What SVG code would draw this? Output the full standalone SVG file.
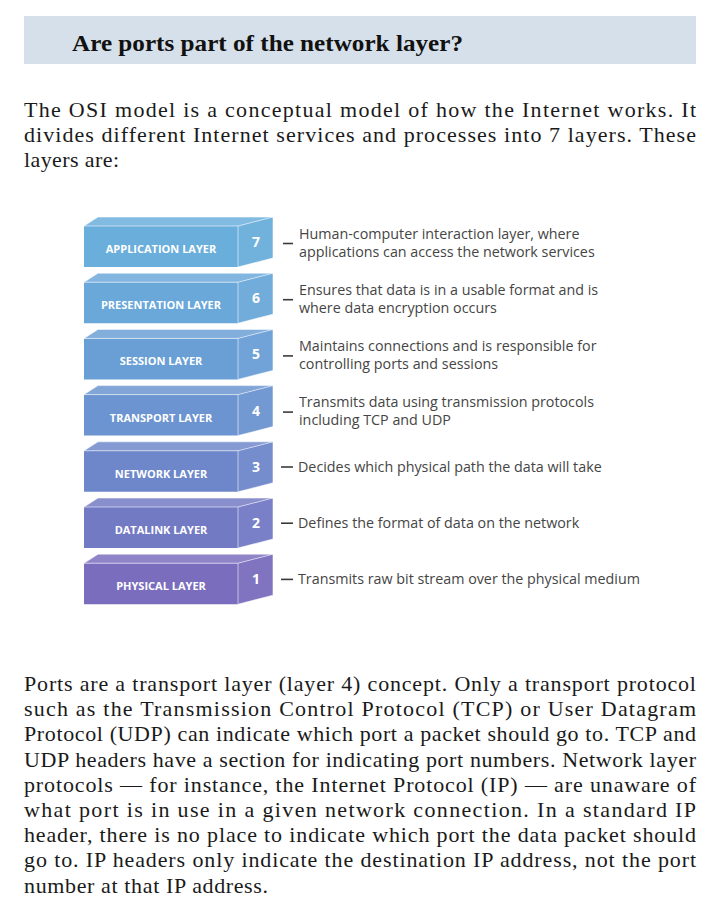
<svg xmlns="http://www.w3.org/2000/svg" xmlns:xlink="http://www.w3.org/1999/xlink" width="720" height="900" viewBox="0 0 720 900">
<style>
  .body { font-family: "Liberation Serif", "Times New Roman", serif; font-size: 22px; fill: #1a1a1a; }
  .title { font-family: "Liberation Serif", "Times New Roman", serif; font-size: 23px; font-weight: 700; fill: #111; }
  .lbl { font-family: "Open Sans", "Noto Sans", sans-serif; font-size: 11px; font-weight: 700; fill: #ffffff; text-anchor: middle; }
  .num { font-family: "Open Sans", "Noto Sans", sans-serif; font-size: 14px; font-weight: 700; fill: #ffffff; text-anchor: middle; }
  .desc { font-family: "Open Sans", "Noto Sans", sans-serif; font-size: 14.3px; fill: #454545; }
  .dash { stroke: #3a3a3a; stroke-width: 1.6; }
  .edge { fill: none; stroke: #ffffff; stroke-opacity: 0.55; stroke-width: 1; }
</style>
<defs>
  <g id="box">
    <polygon points="84,226 238,226 238,267 84,267" fill="currentColor"/>
    <polygon points="84,226 98,217 273,217 238,226" fill="currentColor"/>
    <polygon points="84,226 98,217 273,217 238,226" fill="#ffffff" opacity="0.16"/>
    <polygon points="238,226 273,217 273,258 238,267" fill="currentColor"/>
    <polygon points="238,226 273,217 273,258 238,267" fill="#ffffff" opacity="0.05"/>
    <path class="edge" d="M84,226 H238 V267 M238,226 L273,217 M84,226 L98,217 H273 V258 L238,267"/>
  </g>
</defs>
<rect width="720" height="900" fill="#ffffff"/>

<g id="header">
  <rect x="24" y="16" width="672" height="48" fill="#d6e0ea"/>
  <text class="title" x="72" y="51" textLength="391" lengthAdjust="spacingAndGlyphs">Are ports part of the network layer?</text>
</g>

<g id="intro">
  <text class="body" x="24" y="117" textLength="672" lengthAdjust="spacing">The OSI model is a conceptual model of how the Internet works. It</text>
  <text class="body" x="24" y="142" textLength="672" lengthAdjust="spacing">divides different Internet services and processes into 7 layers. These</text>
  <text class="body" x="24" y="167" textLength="95" lengthAdjust="spacing">layers are:</text>
</g>

<g id="layer7">
  <use xlink:href="#box" href="#box" style="color:#6aaedc"/>
  <text class="lbl" x="161" y="253">APPLICATION LAYER</text>
  <text class="num" x="256" y="247">7</text>
  <text class="desc" x="299" y="238.5">Human-computer interaction layer, where</text>
  <text class="desc" x="299" y="256.5">applications can access the network services</text>
</g>
<g id="layer6" transform="translate(0,56.2)">
  <use xlink:href="#box" href="#box" style="color:#6aa8da"/>
  <text class="lbl" x="161" y="253">PRESENTATION LAYER</text>
  <text class="num" x="256" y="247">6</text>
  <text class="desc" x="299" y="238.5">Ensures that data is in a usable format and is</text>
  <text class="desc" x="299" y="256.5">where data encryption occurs</text>
</g>
<g id="layer5" transform="translate(0,112.4)">
  <use xlink:href="#box" href="#box" style="color:#6a9fd6"/>
  <text class="lbl" x="161" y="253">SESSION LAYER</text>
  <text class="num" x="256" y="247">5</text>
  <text class="desc" x="299" y="238.5">Maintains connections and is responsible for</text>
  <text class="desc" x="299" y="256.5">controlling ports and sessions</text>
</g>
<g id="layer4" transform="translate(0,168.6)">
  <use xlink:href="#box" href="#box" style="color:#6b94d0"/>
  <text class="lbl" x="161" y="253">TRANSPORT LAYER</text>
  <text class="num" x="256" y="247">4</text>
  <text class="desc" x="299" y="238.5">Transmits data using transmission protocols</text>
  <text class="desc" x="299" y="256.5">including TCP and UDP</text>
</g>
<g id="layer3" transform="translate(0,224.8)">
  <use xlink:href="#box" href="#box" style="color:#6e87ca"/>
  <text class="lbl" x="161" y="253">NETWORK LAYER</text>
  <text class="num" x="256" y="247">3</text>
  <text class="desc" x="298" y="247">Decides which physical path the data will take</text>
</g>
<g id="layer2" transform="translate(0,281)">
  <use xlink:href="#box" href="#box" style="color:#737ac4"/>
  <text class="lbl" x="161" y="253">DATALINK LAYER</text>
  <text class="num" x="256" y="247">2</text>
  <text class="desc" x="298" y="247">Defines the format of data on the network</text>
</g>
<g id="layer1" transform="translate(0,337.2)">
  <use xlink:href="#box" href="#box" style="color:#7a6dbe"/>
  <text class="lbl" x="161" y="253">PHYSICAL LAYER</text>
  <text class="num" x="256" y="247">1</text>
  <text class="desc" x="298" y="247">Transmits raw bit stream over the physical medium</text>
</g>

<g id="connectors">
  <line class="dash" x1="283" y1="243.5" x2="293" y2="243.5"/>
  <line class="dash" x1="283" y1="299.7" x2="293" y2="299.7"/>
  <line class="dash" x1="283" y1="355.9" x2="293" y2="355.9"/>
  <line class="dash" x1="283" y1="412.1" x2="293" y2="412.1"/>
  <line class="dash" x1="281" y1="467" x2="293" y2="467"/>
  <line class="dash" x1="281" y1="523.2" x2="293" y2="523.2"/>
  <line class="dash" x1="281" y1="579.4" x2="293" y2="579.4"/>
</g>

<g id="conclusion">
  <text class="body" x="24" y="691" textLength="672" lengthAdjust="spacing">Ports are a transport layer (layer 4) concept. Only a transport protocol</text>
  <text class="body" x="24" y="716.2" textLength="672" lengthAdjust="spacing">such as the Transmission Control Protocol (TCP) or User Datagram</text>
  <text class="body" x="24" y="741.4" textLength="672" lengthAdjust="spacing">Protocol (UDP) can indicate which port a packet should go to. TCP and</text>
  <text class="body" x="24" y="766.6" textLength="672" lengthAdjust="spacing">UDP headers have a section for indicating port numbers. Network layer</text>
  <text class="body" x="24" y="791.8" textLength="672" lengthAdjust="spacing">protocols — for instance, the Internet Protocol (IP) — are unaware of</text>
  <text class="body" x="24" y="817" textLength="672" lengthAdjust="spacing">what port is in use in a given network connection. In a standard IP</text>
  <text class="body" x="24" y="842.2" textLength="672" lengthAdjust="spacing">header, there is no place to indicate which port the data packet should</text>
  <text class="body" x="24" y="867.4" textLength="672" lengthAdjust="spacing">go to. IP headers only indicate the destination IP address, not the port</text>
  <text class="body" x="24" y="892.6" textLength="244" lengthAdjust="spacing">number at that IP address.</text>
</g>
</svg>
